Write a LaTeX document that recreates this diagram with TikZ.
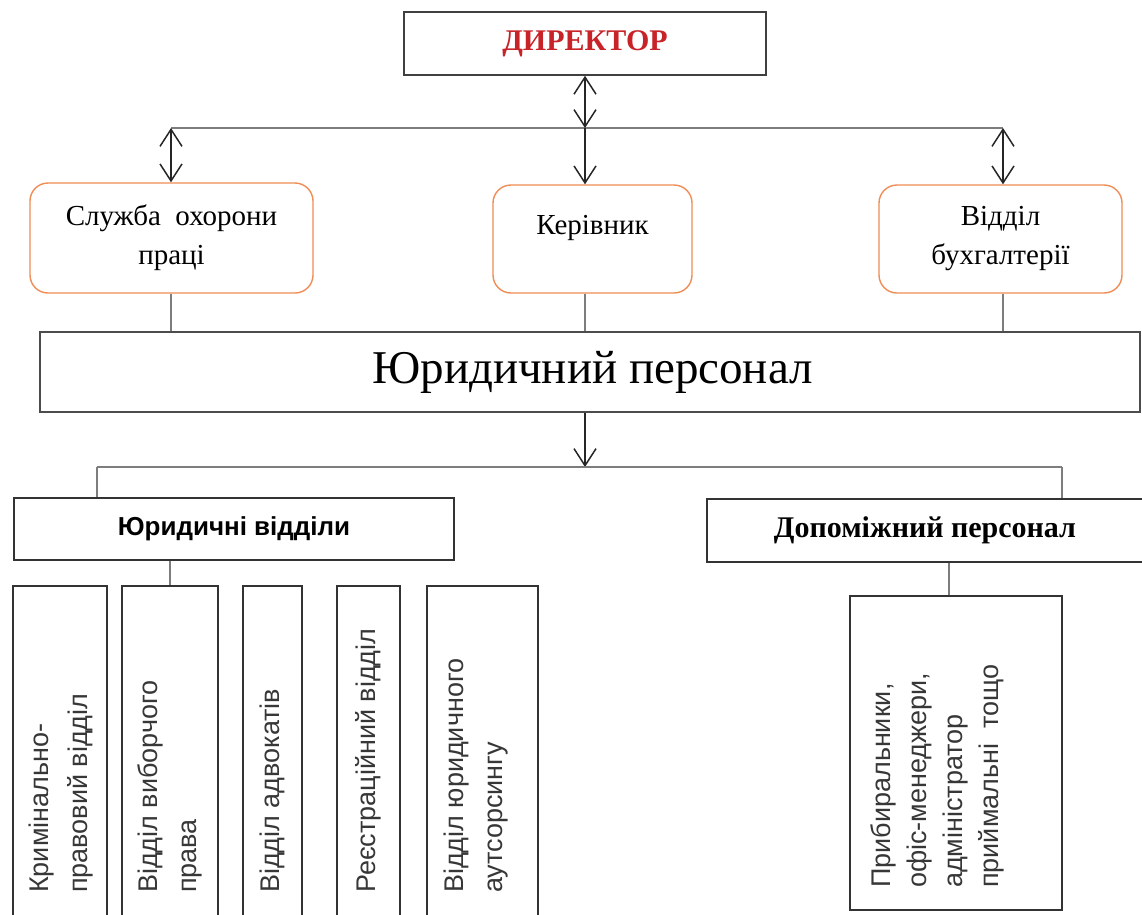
\documentclass[tikz,border=0pt]{standalone}
\usepackage{fontspec}
\setmainfont{Liberation Serif}
\newfontfamily\arialf{Liberation Sans}
\usetikzlibrary{arrows.meta}
\definecolor{boxor}{RGB}{240,140,85}
\definecolor{linegray}{RGB}{125,125,125}
\definecolor{dred}{RGB}{200,35,40}
\definecolor{txtgray}{RGB}{55,55,55}
\begin{document}
\begin{tikzpicture}[x=1pt,y=-1pt,
  bx/.style={draw=black!80, line width=1.6pt, inner sep=0pt, fill=white},
  rbx/.style={draw=boxor, line width=1.4pt, rounded corners=18pt, fill=white, align=center, inner sep=0pt, font=\fontsize{29}{39}\selectfont},
  conn/.style={draw=linegray, line width=1.6pt},
  barb/.tip={Straight Barb[length=17pt,width=22pt]},
  arr/.style={draw=black!85, line width=1.5pt, -barb},
  darr/.style={draw=black!85, line width=1.5pt, barb-barb},
  vtext/.style={rotate=90, anchor=west, inner sep=0pt, align=left, text=txtgray, font=\arialf\fontsize{27}{39}\selectfont}
]
\useasboundingbox (0,0) rectangle (1142,914);
\clip (0,0) rectangle (1142,914);

% top level
\node[bx, draw=black!75, minimum width=362pt, minimum height=63pt, text=dred, font=\bfseries\fontsize{30}{36}\selectfont] (dir) at (585,43.5) {ДИРЕКТОР};

\node[rbx, minimum width=283pt, minimum height=110pt] (sl) at (171.5,238) {Служба~~охорони\\праці};
\node[rbx, minimum width=199pt, minimum height=108pt, font=\fontsize{29}{28}\selectfont] (ker) at (592.5,239) {Керівник\\~};
\node[rbx, minimum width=243pt, minimum height=108pt] (buh) at (1000.5,239) {Відділ\\бухгалтерії};

\node[bx, draw=black!70, minimum width=1100pt, minimum height=80pt, font=\fontsize{47}{56}\selectfont] (yp) at (590,372) {\hspace*{5pt}Юридичний персонал};

\node[bx, minimum width=440pt, minimum height=62pt, font=\arialf\bfseries\fontsize{26}{30}\selectfont] (yv) at (234,529) {Юридичні відділи};
\node[bx, minimum width=436pt, minimum height=63pt, font=\bfseries\fontsize{30}{36}\selectfont] (dp) at (925,530.5) {Допоміжний персонал};

% sub-boxes
\node[bx, minimum width=94pt, minimum height=344pt] (b1) at (60,758) {};
\node[bx, minimum width=96pt, minimum height=344pt] (b2) at (170,758) {};
\node[bx, minimum width=59pt, minimum height=344pt] (b3) at (272.5,758) {};
\node[bx, minimum width=63pt, minimum height=344pt] (b4) at (368.5,758) {};
\node[bx, minimum width=111pt, minimum height=344pt] (b5) at (482.5,758) {};
\node[bx, minimum width=212pt, minimum height=314pt] (rb) at (956,753) {};

\node[vtext] (t1) at (61,893) {Кримінально-\\правовий відділ};
\node[vtext] (t2) at (170,893) {Відділ виборчого\\права};
\node[vtext] (t3) at (272.5,893) {Відділ адвокатів};
\node[vtext] (t4) at (368.5,893) {Реєстраційний відділ};
\node[vtext] (t5) at (476,893) {Відділ юридичного\\аутсорсингу};
\node[vtext, font=\arialf\fontsize{27}{36}\selectfont] (t6) at (937,888) {Прибиральники,\\офіс-менеджери,\\адміністратор\\приймальні~~тощо};

% connectors
\coordinate (j0) at (585,128);
\coordinate (jl) at (171,128);
\coordinate (jr) at (1003,128);
\draw[conn] (jl) -- (jr);
\draw[darr] (dir.south) -- (j0);
\draw[arr] (j0) -- (j0 |- ker.north);
\draw[darr] (jl) -- (jl |- sl.north);
\draw[darr] (jr) -- (jr |- buh.north);
\draw[conn] (jl |- sl.south) -- (jl |- yp.north);
\draw[conn] (j0 |- ker.south) -- (j0 |- yp.north);
\draw[conn] (jr |- buh.south) -- (jr |- yp.north);

\coordinate (k0) at (585,467);
\coordinate (kl) at (97,467);
\coordinate (kr) at (1062,467);
\draw[arr] (j0 |- yp.south) -- (k0);
\draw[conn] (kl) -- (kr);
\draw[conn] (kl) -- (kl |- yv.north);
\draw[conn] (kr) -- (kr |- dp.north);
\coordinate (m1) at (170,0);
\draw[conn] (m1 |- yv.south) -- (m1 |- b2.north);
\coordinate (m2) at (949,0);
\draw[conn] (m2 |- dp.south) -- (m2 |- rb.north);
\end{tikzpicture}
\end{document}
